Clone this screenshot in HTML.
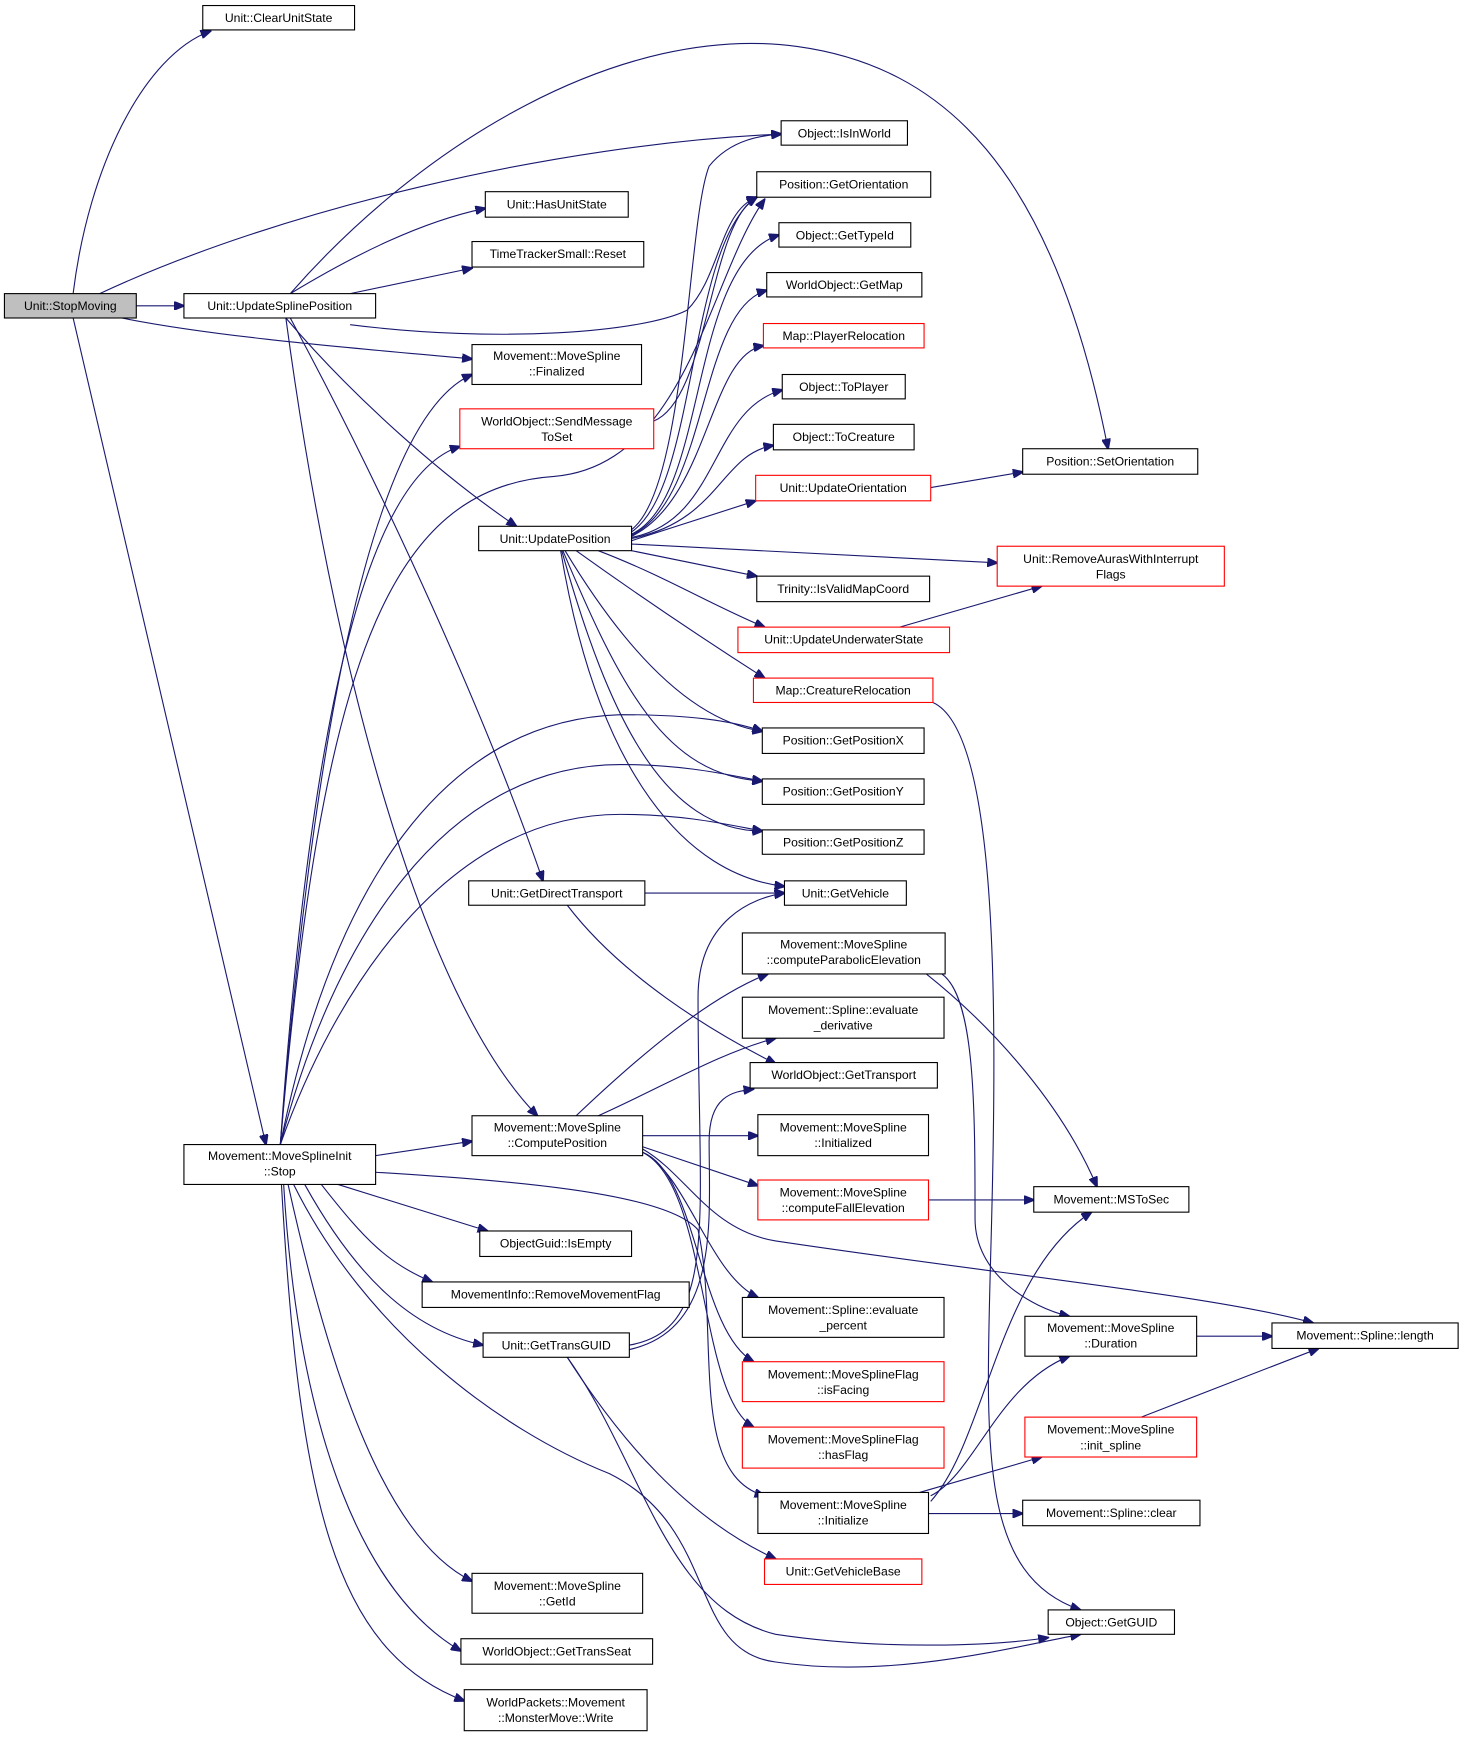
<!DOCTYPE html>
<html><head><meta charset="utf-8"><style>
html,body{margin:0;padding:0;background:#fff;}
svg{display:block;}
text{font-family:"Liberation Sans",sans-serif;font-size:11px;fill:#000;text-anchor:middle;}
.n{fill:#fff;stroke:#000;stroke-width:1;}
.r{fill:#fff;stroke:#ff0000;stroke-width:1;}
.g{fill:#bfbfbf;stroke:#000;stroke-width:1;}
.e{fill:none;stroke:#191970;stroke-width:1;marker-end:url(#a);}
</style></head><body>
<svg width="1464" height="1738" viewBox="0 0 1321.3 1568.6" xmlns="http://www.w3.org/2000/svg">
<defs><marker id="a" markerWidth="10" markerHeight="8" refX="9" refY="4" orient="auto" markerUnits="userSpaceOnUse"><path d="M0,0 L10,4 L0,8 z" fill="#191970" stroke="#191970"/></marker></defs>
<g>
<path class="e" d="M66,265 C80,150 130,50 190,28"/>
<path class="e" d="M123,276 L166,276"/>
<path class="e" d="M90,265 C250,190 500,130 705,121"/>
<path class="e" d="M110,287 C200,305 330,315 426,324"/>
<path class="e" d="M66,287 L240,1033"/>
<path class="e" d="M262,265 C380,130 560,20 720,42 C850,60 950,150 1000,405"/>
<path class="e" d="M262,265 C320,230 380,200 438,188"/>
<path class="e" d="M316,265 L426,242"/>
<path class="e" d="M316,293 C450,310 580,300 620,280 C650,250 650,190 683,178"/>
<path class="e" d="M258,287 C320,360 400,430 466,475"/>
<path class="e" d="M262,287 C350,450 440,650 490,795"/>
<path class="e" d="M258,287 C300,600 380,900 485,1007"/>
<path class="e" d="M590,380 C640,360 640,200 683,178"/>
<path class="e" d="M812,566 L940,529"/>
<path class="e" d="M840,440 L923,426"/>
<path class="e" d="M842,634 C900,660 900,900 895,1100 C890,1300 880,1420 975,1453"/>
<path class="e" d="M582,806 L708,806"/>
<path class="e" d="M512,817 C560,880 640,930 700,960"/>
<path class="e" d="M836,879 C900,930 960,1000 990,1071"/>
<path class="e" d="M850,879 C880,900 880,1000 880,1100 C880,1150 930,1180 965,1188"/>
<path class="e" d="M520,1007 C580,950 640,900 693,879"/>
<path class="e" d="M540,1007 C600,980 650,950 700,937"/>
<path class="e" d="M580,1025 L684,1025"/>
<path class="e" d="M580,1035 L684,1070"/>
<path class="e" d="M580,1037 C620,1060 640,1110 700,1120 C900,1150 1100,1170 1185,1194"/>
<path class="e" d="M580,1040 C620,1060 640,1150 684,1171"/>
<path class="e" d="M580,1040 C630,1060 630,1200 680,1229"/>
<path class="e" d="M580,1040 C640,1070 630,1260 680,1288"/>
<path class="e" d="M838,1083 L933,1083"/>
<path class="e" d="M1080,1206 L1148,1206"/>
<path class="e" d="M1030,1279 L1190,1217"/>
<path class="e" d="M838,1366 L923,1366"/>
<path class="e" d="M830,1347 L940,1315"/>
<path class="e" d="M840,1350 C880,1330 900,1250 965,1224"/>
<path class="e" d="M840,1355 C890,1300 900,1150 985,1094"/>
<path class="e" d="M339,1043 L426,1030"/>
<path class="e" d="M305,1069 L440,1111"/>
<path class="e" d="M290,1069 C330,1120 350,1140 390,1157"/>
<path class="e" d="M275,1069 C320,1150 370,1200 436,1214"/>
<path class="e" d="M260,1069 C300,1250 350,1390 426,1427"/>
<path class="e" d="M256,1069 C270,1300 330,1440 416,1490"/>
<path class="e" d="M254,1069 C270,1350 300,1490 419,1535"/>
<path class="e" d="M265,1069 C330,1200 450,1290 550,1330 C650,1380 620,1490 700,1500 C800,1515 900,1490 975,1475"/>
<path class="e" d="M339,1058 C450,1065 600,1075 630,1110 C650,1200 620,1330 690,1350"/>
<path class="e" d="M253,1033 C280,700 330,380 426,338"/>
<path class="e" d="M253,1033 C280,650 330,430 415,403"/>
<path class="e" d="M253,1033 C290,600 350,440 500,430 C620,420 640,250 690,180"/>
<path class="e" d="M253,1033 C300,800 400,650 560,645 C620,645 660,650 688,660"/>
<path class="e" d="M253,1033 C300,850 400,690 560,690 C620,690 660,700 688,705"/>
<path class="e" d="M253,1033 C300,900 400,735 560,735 C620,735 660,745 688,750"/>
<path class="e" d="M568,1214 C650,1200 630,1100 630,900 C630,830 680,810 708,806"/>
<path class="e" d="M568,1218 C650,1200 640,1100 640,1030 C640,990 660,985 680,983"/>
<path class="e" d="M512,1225 C560,1300 620,1370 700,1407"/>
<path class="e" d="M512,1225 C580,1320 600,1450 700,1475 C800,1490 900,1485 946,1478"/>
<path class="e" d="M570,478 C620,440 620,200 640,150 C660,125 690,122 705,121"/>
<path class="e" d="M570,480 C630,440 620,220 683,178"/>
<path class="e" d="M570,482 C640,450 620,240 703,212"/>
<path class="e" d="M570,483 C640,450 630,280 692,262"/>
<path class="e" d="M570,484 C640,450 640,320 689,312"/>
<path class="e" d="M570,485 C650,470 640,370 706,352"/>
<path class="e" d="M570,486 C650,470 650,410 698,402"/>
<path class="e" d="M570,488 L682,452"/>
<path class="e" d="M570,491 L900,508"/>
<path class="e" d="M570,497 L683,520"/>
<path class="e" d="M540,497 C600,520 640,545 690,566"/>
<path class="e" d="M520,497 C580,540 640,580 690,612"/>
<path class="e" d="M510,497 C560,580 620,650 688,660"/>
<path class="e" d="M508,497 C560,620 600,700 688,705"/>
<path class="e" d="M507,497 C550,650 600,750 688,750"/>
<path class="e" d="M506,497 C540,700 620,790 708,800"/>
</g>
<g>
<rect class="g" x="4" y="265" width="119" height="22"/><text x="63.5" y="280">Unit::StopMoving</text>
<rect class="n" x="183" y="5" width="137" height="22"/><text x="251.5" y="20">Unit::ClearUnitState</text>
<rect class="n" x="166" y="265" width="173" height="22"/><text x="252.5" y="280">Unit::UpdateSplinePosition</text>
<rect class="n" x="705" y="109" width="114" height="22"/><text x="762" y="124">Object::IsInWorld</text>
<rect class="n" x="683" y="155" width="157" height="23"/><text x="761.5" y="170">Position::GetOrientation</text>
<rect class="n" x="438" y="173" width="129" height="23"/><text x="502.5" y="188">Unit::HasUnitState</text>
<rect class="n" x="426" y="218" width="155" height="23"/><text x="503.5" y="233">TimeTrackerSmall::Reset</text>
<rect class="n" x="703" y="201" width="119" height="22"/><text x="762.5" y="216">Object::GetTypeId</text>
<rect class="n" x="692" y="246" width="140" height="22"/><text x="762" y="261">WorldObject::GetMap</text>
<rect class="r" x="689" y="292" width="145" height="22"/><text x="761.5" y="307">Map::PlayerRelocation</text>
<rect class="n" x="426" y="311" width="153" height="36"/><text x="502.5" y="325">Movement::MoveSpline</text><text x="502.5" y="339">::Finalized</text>
<rect class="r" x="415" y="369" width="175" height="36"/><text x="502.5" y="384">WorldObject::SendMessage</text><text x="502.5" y="398">ToSet</text>
<rect class="n" x="706" y="338" width="111" height="22"/><text x="761.5" y="353">Object::ToPlayer</text>
<rect class="n" x="698" y="383" width="127" height="23"/><text x="761.5" y="398">Object::ToCreature</text>
<rect class="n" x="923" y="405" width="158" height="23"/><text x="1002" y="420">Position::SetOrientation</text>
<rect class="r" x="682" y="429" width="158" height="23"/><text x="761" y="444">Unit::UpdateOrientation</text>
<rect class="n" x="432" y="475" width="138" height="22"/><text x="501" y="490">Unit::UpdatePosition</text>
<rect class="r" x="900" y="493" width="205" height="36"/><text x="1002.5" y="508">Unit::RemoveAurasWithInterrupt</text><text x="1002.5" y="522">Flags</text>
<rect class="n" x="683" y="520" width="156" height="23"/><text x="761" y="535">Trinity::IsValidMapCoord</text>
<rect class="r" x="666" y="566" width="191" height="23"/><text x="761.5" y="581">Unit::UpdateUnderwaterState</text>
<rect class="r" x="680" y="612" width="162" height="22"/><text x="761" y="627">Map::CreatureRelocation</text>
<rect class="n" x="688" y="657" width="146" height="23"/><text x="761" y="672">Position::GetPositionX</text>
<rect class="n" x="688" y="703" width="146" height="23"/><text x="761" y="718">Position::GetPositionY</text>
<rect class="n" x="688" y="749" width="146" height="22"/><text x="761" y="764">Position::GetPositionZ</text>
<rect class="n" x="423" y="795" width="159" height="22"/><text x="502.5" y="810">Unit::GetDirectTransport</text>
<rect class="n" x="708" y="795" width="110" height="22"/><text x="763" y="810">Unit::GetVehicle</text>
<rect class="n" x="670" y="842" width="183" height="37"/><text x="761.5" y="856">Movement::MoveSpline</text><text x="761.5" y="870">::computeParabolicElevation</text>
<rect class="n" x="670" y="900" width="182" height="37"/><text x="761" y="915">Movement::Spline::evaluate</text><text x="761" y="929">_derivative</text>
<rect class="n" x="677" y="959" width="169" height="23"/><text x="761.5" y="974">WorldObject::GetTransport</text>
<rect class="n" x="426" y="1007" width="154" height="36"/><text x="503" y="1021">Movement::MoveSpline</text><text x="503" y="1035">::ComputePosition</text>
<rect class="n" x="684" y="1006" width="154" height="37"/><text x="761" y="1021">Movement::MoveSpline</text><text x="761" y="1035">::Initialized</text>
<rect class="n" x="166" y="1033" width="173" height="36"/><text x="252.5" y="1047">Movement::MoveSplineInit</text><text x="252.5" y="1061">::Stop</text>
<rect class="r" x="684" y="1065" width="154" height="36"/><text x="761" y="1080">Movement::MoveSpline</text><text x="761" y="1094">::computeFallElevation</text>
<rect class="n" x="933" y="1071" width="140" height="23"/><text x="1003" y="1086">Movement::MSToSec</text>
<rect class="n" x="433" y="1111" width="137" height="23"/><text x="501.5" y="1126">ObjectGuid::IsEmpty</text>
<rect class="n" x="381" y="1157" width="241" height="23"/><text x="501.5" y="1172">MovementInfo::RemoveMovementFlag</text>
<rect class="n" x="670" y="1171" width="182" height="36"/><text x="761" y="1186">Movement::Spline::evaluate</text><text x="761" y="1200">_percent</text>
<rect class="n" x="925" y="1188" width="155" height="36"/><text x="1002.5" y="1202">Movement::MoveSpline</text><text x="1002.5" y="1216">::Duration</text>
<rect class="n" x="1148" y="1194" width="168" height="23"/><text x="1232" y="1209">Movement::Spline::length</text>
<rect class="n" x="436" y="1203" width="132" height="22"/><text x="502" y="1218">Unit::GetTransGUID</text>
<rect class="r" x="670" y="1229" width="182" height="36"/><text x="761" y="1244">Movement::MoveSplineFlag</text><text x="761" y="1258">::isFacing</text>
<rect class="r" x="925" y="1279" width="155" height="36"/><text x="1002.5" y="1294">Movement::MoveSpline</text><text x="1002.5" y="1308">::init_spline</text>
<rect class="r" x="670" y="1288" width="182" height="37"/><text x="761" y="1303">Movement::MoveSplineFlag</text><text x="761" y="1317">::hasFlag</text>
<rect class="n" x="684" y="1347" width="154" height="37"/><text x="761" y="1362">Movement::MoveSpline</text><text x="761" y="1376">::Initialize</text>
<rect class="n" x="923" y="1354" width="160" height="23"/><text x="1003" y="1369">Movement::Spline::clear</text>
<rect class="r" x="690" y="1407" width="142" height="23"/><text x="761" y="1422">Unit::GetVehicleBase</text>
<rect class="n" x="426" y="1420" width="154" height="36"/><text x="503" y="1435">Movement::MoveSpline</text><text x="503" y="1449">::GetId</text>
<rect class="n" x="946" y="1453" width="114" height="22"/><text x="1003" y="1468">Object::GetGUID</text>
<rect class="n" x="416" y="1479" width="173" height="23"/><text x="502.5" y="1494">WorldObject::GetTransSeat</text>
<rect class="n" x="419" y="1525" width="165" height="37"/><text x="501.5" y="1540">WorldPackets::Movement</text><text x="501.5" y="1554">::MonsterMove::Write</text>
</g>
</svg>
</body></html>
